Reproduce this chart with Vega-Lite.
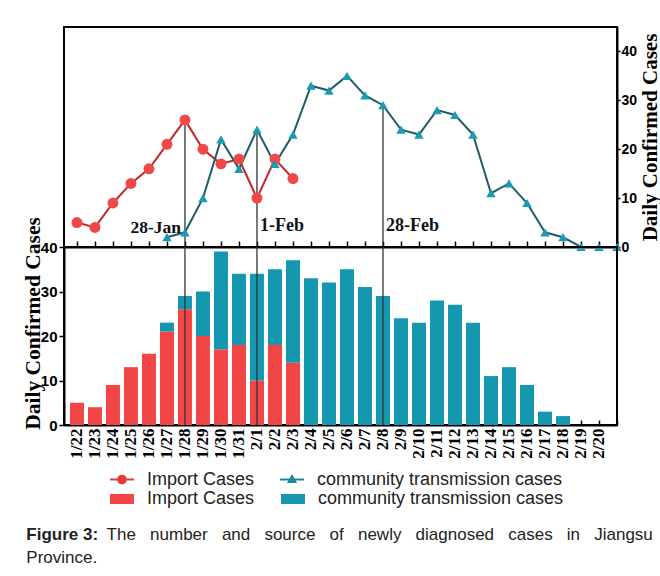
{
  "$schema": "https://vega.github.io/schema/vega-lite/v6.json",
  "padding": {"left": 21, "top": 26, "right": 0, "bottom": 0},
  "background": "white",
  "datasets": {
    "cases": [
      {"date": "1/22", "series": "Import Cases", "value": 5},
      {"date": "1/23", "series": "Import Cases", "value": 4},
      {"date": "1/24", "series": "Import Cases", "value": 9},
      {"date": "1/25", "series": "Import Cases", "value": 13},
      {"date": "1/26", "series": "Import Cases", "value": 16},
      {"date": "1/27", "series": "Import Cases", "value": 21},
      {"date": "1/28", "series": "Import Cases", "value": 26},
      {"date": "1/29", "series": "Import Cases", "value": 20},
      {"date": "1/30", "series": "Import Cases", "value": 17},
      {"date": "1/31", "series": "Import Cases", "value": 18},
      {"date": "2/1", "series": "Import Cases", "value": 10},
      {"date": "2/2", "series": "Import Cases", "value": 18},
      {"date": "2/3", "series": "Import Cases", "value": 14},
      {"date": "1/27", "series": "community transmission cases", "value": 2},
      {"date": "1/28", "series": "community transmission cases", "value": 3},
      {"date": "1/29", "series": "community transmission cases", "value": 10},
      {"date": "1/30", "series": "community transmission cases", "value": 22},
      {"date": "1/31", "series": "community transmission cases", "value": 16},
      {"date": "2/1", "series": "community transmission cases", "value": 24},
      {"date": "2/2", "series": "community transmission cases", "value": 17},
      {"date": "2/3", "series": "community transmission cases", "value": 23},
      {"date": "2/4", "series": "community transmission cases", "value": 33},
      {"date": "2/5", "series": "community transmission cases", "value": 32},
      {"date": "2/6", "series": "community transmission cases", "value": 35},
      {"date": "2/7", "series": "community transmission cases", "value": 31},
      {"date": "2/8", "series": "community transmission cases", "value": 29},
      {"date": "2/9", "series": "community transmission cases", "value": 24},
      {"date": "2/10", "series": "community transmission cases", "value": 23},
      {"date": "2/11", "series": "community transmission cases", "value": 28},
      {"date": "2/12", "series": "community transmission cases", "value": 27},
      {"date": "2/13", "series": "community transmission cases", "value": 23},
      {"date": "2/14", "series": "community transmission cases", "value": 11},
      {"date": "2/15", "series": "community transmission cases", "value": 13},
      {"date": "2/16", "series": "community transmission cases", "value": 9},
      {"date": "2/17", "series": "community transmission cases", "value": 3},
      {"date": "2/18", "series": "community transmission cases", "value": 2},
      {"date": "2/19", "series": "community transmission cases", "value": 0},
      {"date": "2/20", "series": "community transmission cases", "value": 0},
      {"date": "2/21", "series": "community transmission cases", "value": 0}
    ],
    "marks": [
      {"date": "1/28", "top": 26, "label": "28-Jan"},
      {"date": "2/1", "top": 24, "label": "1-Feb"},
      {"date": "2/8", "top": 29, "label": "28-Feb"}
    ]
  },
  "title": {
    "text": "Figure 3:",
    "subtitle": ["\u200b\u00a0\u00a0\u00a0\u00a0\u00a0\u00a0\u00a0\u00a0\u00a0\u00a0\u00a0\u00a0\u00a0\u00a0\u00a0\u00a0\u00a0The\u00a0\u00a0\u00a0number\u00a0\u00a0\u00a0and\u00a0\u00a0\u00a0source\u00a0\u00a0\u00a0of\u00a0\u00a0\u00a0newly\u00a0\u00a0\u00a0diagnosed\u00a0\u00a0\u00a0cases\u00a0\u00a0\u00a0in\u00a0\u00a0\u00a0Jiangsu", "Province."],
    "orient": "bottom",
    "anchor": "start",
    "frame": "bounds",
    "dx": 5,
    "font": "Liberation Sans",
    "fontSize": 17,
    "fontWeight": "bold",
    "color": "#222222",
    "subtitleFont": "Liberation Sans",
    "subtitleFontSize": 17,
    "subtitleFontWeight": "normal",
    "subtitleColor": "#222222",
    "subtitleLineHeight": 23,
    "subtitlePadding": -17,
    "offset": 18
  },
  "spacing": 0,
  "bounds": "flush",
  "resolve": {
    "scale": {"fill": "independent", "x": "independent", "y": "independent"},
    "legend": {"fill": "independent"}
  },
  "config": {
    "view": {"stroke": "black", "strokeWidth": 2},
    "axis": {
      "grid": false,
      "domainColor": "black",
      "domainWidth": 2,
      "tickColor": "black",
      "tickWidth": 1.5,
      "labelColor": "black",
      "titleColor": "black",
      "labelFont": "Liberation Sans"
    }
  },
  "vconcat": [
    {
      "width": 553,
      "height": 220,
      "resolve": {"scale": {"shape": "independent"}, "legend": {"shape": "independent"}},
      "layer": [
        {
          "data": {"name": "marks"},
          "mark": {"type": "rule", "color": "#333333", "strokeWidth": 1.3},
          "encoding": {
            "x": {
              "field": "date", "type": "ordinal",
              "scale": {"type": "point", "domain": ["1/22","1/23","1/24","1/25","1/26","1/27","1/28","1/29","1/30","1/31","2/1","2/2","2/3","2/4","2/5","2/6","2/7","2/8","2/9","2/10","2/11","2/12","2/13","2/14","2/15","2/16","2/17","2/18","2/19","2/20","2/21"], "padding": 0.36, "align": 1},
              "axis": {"orient": "bottom", "labels": false, "title": null, "tickSize": -6}
            },
            "y": {
              "field": "top", "type": "quantitative",
              "scale": {"domain": [0, 41]},
              "axis": {"orient": "right", "values": [0, 10, 20, 30, 40], "title": "Daily Confirmed Cases", "titleFont": "Liberation Serif", "titleFontWeight": "bold", "titleFontSize": 21, "titleAngle": 270, "titleBaseline": "top", "titlePadding": 3, "labelFontSize": 14, "labelFontWeight": "bold", "tickSize": 3, "labelPadding": 1}
            },
            "y2": {"datum": 0}
          }
        },
        {
          "data": {"name": "cases"},
          "mark": {"type": "line", "strokeWidth": 2},
          "encoding": {
            "x": {"field": "date", "type": "ordinal"},
            "y": {"field": "value", "type": "quantitative"},
            "stroke": {"field": "series", "type": "nominal", "scale": {"domain": ["Import Cases", "community transmission cases"], "range": ["#c4262b", "#1f5c68"]}, "legend": null}
          }
        },
        {
          "data": {"name": "cases"},
          "transform": [{"filter": "datum.series == 'Import Cases'"}],
          "mark": {"type": "point", "shape": "circle", "filled": true, "opacity": 1, "size": 120},
          "encoding": {
            "x": {"field": "date", "type": "ordinal"},
            "y": {"field": "value", "type": "quantitative"},
            "fill": {"field": "series", "type": "nominal", "scale": {"domain": ["Import Cases", "community transmission cases"], "range": ["#f04848", "#1b9bb3"]}, "legend": null}
          }
        },
        {
          "data": {"name": "cases"},
          "transform": [{"filter": "datum.series != 'Import Cases'"}],
          "mark": {"type": "point", "shape": "triangle-up", "filled": true, "opacity": 1, "size": 90},
          "encoding": {
            "x": {"field": "date", "type": "ordinal"},
            "y": {"field": "value", "type": "quantitative"},
            "fill": {"field": "series", "type": "nominal", "legend": null}
          }
        },
        {
          "data": {"name": "cases"},
          "transform": [{"filter": "false"}],
          "mark": {"type": "point", "filled": true, "color": "#e33a3c", "opacity": 1},
          "encoding": {
            "shape": {
              "field": "series", "type": "nominal",
              "scale": {"domain": ["Import Cases"], "range": ["M-1,-0.08L1,-0.08L1,0.08L-1,0.08Z M-0.4,0A0.4,0.4 0 1,1 0.4,0A0.4,0.4 0 1,1 -0.4,0Z"]},
              "legend": {
                "orient": "none", "legendX": 46, "legendY": 440.5, "title": null,
                "symbolSize": 576, "symbolStrokeWidth": 0, "symbolFillColor": "#e33a3c",
                "labelFont": "Liberation Sans", "labelFontSize": 18, "labelColor": "#222222", "labelOffset": 13, "labelLimit": 400
              }
            }
          }
        },
        {
          "data": {"name": "cases"},
          "transform": [{"filter": "false"}],
          "mark": {"type": "point", "filled": true, "color": "#1a8aa0", "opacity": 1},
          "encoding": {
            "shape": {
              "field": "series", "type": "nominal",
              "scale": {"domain": ["community transmission cases"], "range": ["M-1,-0.08L1,-0.08L1,0.08L-1,0.08Z M0,-0.45L0.42,0.3L-0.42,0.3Z"]},
              "legend": {
                "orient": "none", "legendX": 216, "legendY": 440.5, "title": null,
                "symbolSize": 576, "symbolStrokeWidth": 0, "symbolFillColor": "#1a8aa0",
                "labelFont": "Liberation Sans", "labelFontSize": 18, "labelColor": "#222222", "labelOffset": 13, "labelLimit": 400
              }
            }
          }
        },
        {
          "data": {"name": "marks"},
          "transform": [{"filter": "datum.label == '28-Jan'"}],
          "mark": {"type": "text", "align": "right", "dx": -4, "font": "Liberation Serif", "fontWeight": "bold", "fontSize": 17.5, "color": "#111111"},
          "encoding": {
            "x": {"field": "date", "type": "ordinal"},
            "y": {"datum": 3.8},
            "text": {"field": "label"}
          }
        },
        {
          "data": {"name": "marks"},
          "transform": [{"filter": "datum.label != '28-Jan'"}],
          "mark": {"type": "text", "align": "left", "dx": 3, "font": "Liberation Serif", "fontWeight": "bold", "fontSize": 18, "color": "#111111"},
          "encoding": {
            "x": {"field": "date", "type": "ordinal"},
            "y": {"datum": 4.2},
            "text": {"field": "label"}
          }
        }
      ]
    },
    {
      "width": 553,
      "height": 178,
      "layer": [
        {
          "data": {"name": "cases"},
          "mark": {"type": "bar", "width": 14},
          "encoding": {
            "x": {
              "field": "date", "type": "ordinal",
              "scale": {"type": "point", "domain": ["1/22","1/23","1/24","1/25","1/26","1/27","1/28","1/29","1/30","1/31","2/1","2/2","2/3","2/4","2/5","2/6","2/7","2/8","2/9","2/10","2/11","2/12","2/13","2/14","2/15","2/16","2/17","2/18","2/19","2/20","2/21"], "padding": 0.36, "align": 1},
              "axis": {"title": null, "labelAngle": 270, "labelFont": "Liberation Serif", "labelFontWeight": "bold", "labelFontSize": 17, "tickSize": -5, "labelPadding": 8, "labelExpr": "datum.value == '2/21' ? '' : datum.value"}
            },
            "y": {
              "field": "value", "type": "quantitative", "stack": "zero",
              "scale": {"domain": [0, 40]},
              "axis": {"values": [0, 10, 20, 30, 40], "title": "Daily Confirmed Cases", "titleFont": "Liberation Serif", "titleFontWeight": "bold", "titleFontSize": 21.5, "titleY": 76, "labelFontSize": 15, "labelFontWeight": "bold", "tickSize": 5, "labelPadding": 2, "titlePadding": -4}
            },
            "fill": {
              "field": "series", "type": "nominal",
              "scale": {"domain": ["Import Cases", "community transmission cases"], "range": ["#f24646", "#1597af"]},
              "legend": {
                "orient": "none", "legendX": 46, "legendY": 240, "direction": "horizontal", "title": null,
                "symbolType": "M-1,-0.42H1V0.42H-1Z", "symbolSize": 576, "symbolStrokeWidth": 0,
                "labelFont": "Liberation Sans", "labelFontSize": 18, "labelColor": "#222222",
                "labelOffset": 13, "columnPadding": 26, "labelLimit": 400
              }
            },
            "order": {"field": "series", "sort": "ascending"}
          }
        },
        {
          "data": {"name": "marks"},
          "mark": {"type": "rule", "color": "#333333", "strokeWidth": 1.3},
          "encoding": {
            "x": {"field": "date", "type": "ordinal"}
          }
        }
      ]
    }
  ]
}
